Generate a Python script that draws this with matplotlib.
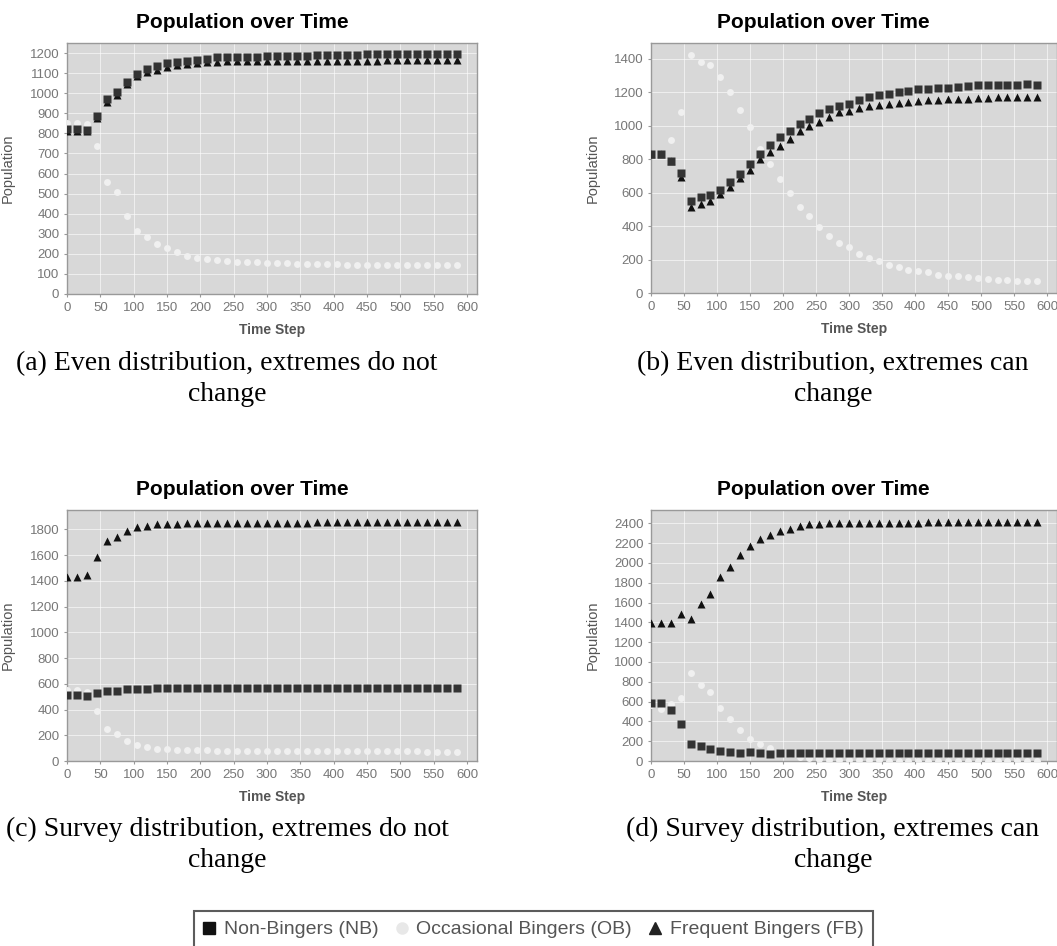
import numpy as np
import matplotlib.pyplot as plt
from matplotlib.lines import Line2D

# time steps sampled every 15 steps
steps = list(range(0, 600, 15))

# (a) even distribution, extremes do not change
a_nb = [821, 821, 818, 884, 971, 1004, 1054, 1094, 1122, 1133, 1148, 1153, 1162, 1167, 1170, 1178,
        1180, 1180, 1180, 1181, 1183, 1186, 1187, 1187, 1187, 1188, 1188, 1188, 1189, 1192, 1193,
        1193, 1193, 1193, 1194, 1194, 1194, 1194, 1194, 1194]
a_ob = [851, 852, 848, 735, 560, 507, 389, 316, 282, 249, 228, 211, 190, 181, 175, 170, 165, 160,
        158, 158, 156, 153, 152, 150, 149, 148, 147, 147, 146, 146, 145, 145, 144, 144, 144, 143,
        143, 142, 142, 142]
a_fb = [814, 814, 814, 875, 958, 990, 1045, 1088, 1105, 1115, 1128, 1138, 1145, 1150, 1153, 1157,
        1158, 1158, 1158, 1159, 1160, 1160, 1160, 1161, 1161, 1161, 1161, 1161, 1162, 1162, 1162,
        1162, 1163, 1163, 1163, 1163, 1163, 1163, 1163, 1163]

# (b) even distribution, extremes can change
b_nb = [834, 834, 792, 718, 552, 574, 588, 614, 662, 712, 770, 834, 886, 935, 971, 1011, 1043,
        1075, 1101, 1121, 1133, 1153, 1171, 1183, 1189, 1203, 1209, 1217, 1221, 1225, 1225, 1233,
        1237, 1243, 1243, 1243, 1243, 1243, 1247, 1243]
b_ob = [832, 832, 913, 1081, 1426, 1382, 1366, 1292, 1201, 1093, 991, 862, 772, 682, 598, 515,
        459, 395, 343, 299, 275, 235, 209, 193, 170, 156, 140, 130, 124, 110, 104, 100, 94, 90, 86,
        80, 80, 74, 74, 70]
b_fb = [834, 834, 788, 694, 515, 534, 548, 594, 634, 688, 738, 802, 844, 882, 921, 969, 997, 1021,
        1053, 1083, 1087, 1107, 1117, 1125, 1129, 1137, 1145, 1147, 1153, 1157, 1161, 1161, 1161,
        1167, 1167, 1173, 1173, 1173, 1173, 1173]

# (c) survey distribution, extremes do not change
c_nb = [511, 511, 506, 529, 545, 545, 558, 558, 558, 568, 568, 568, 568, 568, 568, 568, 568, 568,
        568, 568, 568, 568, 568, 568, 568, 568, 568, 568, 568, 568, 568, 568, 568, 568, 568, 568,
        568, 568, 568, 568]
c_ob = [550, 550, 537, 389, 249, 213, 156, 122, 109, 96, 96, 88, 88, 88, 88, 78, 78, 78, 78, 78,
        78, 78, 78, 78, 78, 78, 78, 78, 78, 78, 78, 78, 78, 78, 78, 75, 70, 70, 70, 70]
c_fb = [1432, 1432, 1447, 1582, 1712, 1743, 1787, 1815, 1826, 1845, 1845, 1845, 1850, 1850, 1850,
        1850, 1850, 1850, 1850, 1850, 1850, 1850, 1850, 1850, 1850, 1855, 1855, 1855, 1855, 1855,
        1855, 1855, 1855, 1855, 1855, 1855, 1855, 1855, 1855, 1855]

# (d) survey distribution, extremes can change
d_nb = [586, 586, 519, 377, 168, 148, 118, 101, 91, 81, 91, 81, 74, 81, 81, 81, 81, 81, 81, 81,
        81, 81, 81, 81, 81, 81, 81, 81, 81, 81, 81, 81, 81, 81, 81, 81, 81, 81, 81, 81]
d_ob = [563, 529, 580, 640, 893, 765, 698, 539, 428, 317, 226, 168, 135, 91, 67, 40, 34, 24, 13,
        7, 7, 6, 6, 6, 5, 5, 5, 5, 5, 5, 5, 5, 5, 5, 5, 5, 5, 5, 5, 5]
d_fb = [1389, 1389, 1389, 1480, 1432, 1581, 1685, 1854, 1962, 2080, 2171, 2238, 2282, 2322, 2342,
        2373, 2390, 2390, 2400, 2400, 2400, 2406, 2406, 2406, 2406, 2406, 2406, 2406, 2417, 2417,
        2417, 2417, 2417, 2417, 2417, 2417, 2417, 2417, 2417, 2417]

captions = ["(a) Even distribution, extremes do not\nchange",
            "(b) Even distribution, extremes can\nchange",
            "(c) Survey distribution, extremes do not\nchange",
            "(d) Survey distribution, extremes can\nchange"]
series_names = ["Non-Bingers (NB)", "Occasional Bingers (OB)", "Frequent Bingers (FB)"]

W, H = 1057, 946
fig = plt.figure(figsize=(W / 100, H / 100), dpi=100)
plt.rcParams['font.family'] = ['Liberation Sans', 'DejaVu Sans']


def px_axes(left, top, right, bottom):
    return fig.add_axes([left / W, 1 - bottom / H, (right - left) / W, (bottom - top) / H])


def draw(ax, nb, ob, fb, ymax, ystep):
    ax.set_facecolor('#d8d8d8')
    ax.plot(steps, fb, '^', color='#111111', ms=5.5, mec='none', zorder=3)
    ax.plot(steps, ob, 'o', color='#f0f0f0', ms=5, mec='none', zorder=4)
    ax.plot(steps, nb, 's', color='#333333', ms=5.6, mec='none', zorder=5)
    ax.set_xlim(0, 615)
    ax.set_ylim(0, ymax)
    ax.set_xticks(range(0, 601, 50))
    ax.set_yticks(range(0, ymax, ystep))
    ax.grid(True, color='white', lw=0.6, alpha=0.7)
    ax.set_axisbelow(True)
    for s in ax.spines.values():
        s.set_color('#999999')
        s.set_linewidth(1)
    ax.tick_params(direction='out', length=2.5, width=0.8, color='#999999',
                   labelcolor='#777777', labelsize=9.5, pad=3)
    ax.set_ylabel('Population', fontsize=10.5, color='#555555')
    ax.yaxis.set_label_coords(-0.127, 0.5)
    ax.set_xlabel('Time Step', fontsize=10, color='#555555', fontweight='bold')
    ax.xaxis.set_label_coords(0.5, -0.143)
    ax.xaxis.label.set_va('center')


ax_a = px_axes(67, 43, 477, 294)
draw(ax_a, a_nb, a_ob, a_fb, 1250, 100)
ax_b = px_axes(651, 43, 1057, 293)
draw(ax_b, b_nb, b_ob, b_fb, 1495, 200)
ax_c = px_axes(67, 510, 477, 761)
draw(ax_c, c_nb, c_ob, c_fb, 1950, 200)
ax_d = px_axes(651, 510, 1057, 761)
draw(ax_d, d_nb, d_ob, d_fb, 2535, 200)

# panel titles
for cx, ty in [(242, 23), (823, 23), (242, 489), (823, 489)]:
    fig.text(cx / W, 1 - ty / H, 'Population over Time', ha='center', va='center',
             fontsize=15, fontweight='bold')

# captions under each panel
caption_x = [227, 833, 227, 833]
caption_y = [379, 379, 845, 845]
for cap, x, y in zip(captions, caption_x, caption_y):
    fig.text(x / W, 1 - y / H, cap, ha='center', va='center', family='Liberation Serif',
             fontsize=20, linespacing=1.32)

handles = [Line2D([], [], ls='none', marker='s', color='#111111', ms=9),
           Line2D([], [], ls='none', marker='o', color='#e8e8e8', ms=9, mec='none'),
           Line2D([], [], ls='none', marker='^', color='#222222', ms=9)]
leg = fig.legend(handles, series_names, loc='upper center', bbox_to_anchor=(533.5 / W, 1 - 911 / H),
                 ncol=3, fontsize=14, frameon=True, fancybox=False, handlelength=0.6,
                 handletextpad=0.45, columnspacing=0.9, borderpad=0.5, borderaxespad=0,
                 labelcolor='#555555')
leg.get_frame().set_edgecolor('#333333')
leg.get_frame().set_linewidth(1.5)

fig.savefig('out.png', dpi=100)
